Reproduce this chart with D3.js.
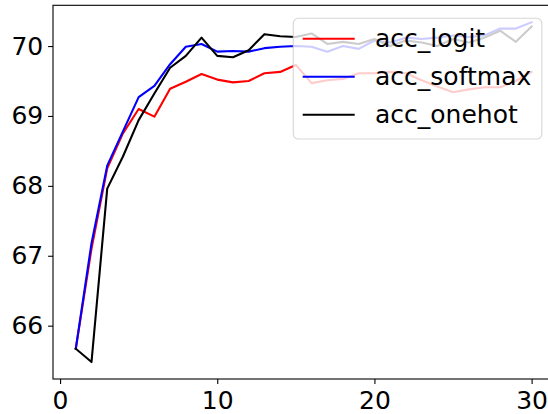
<!DOCTYPE html>
<html><head><meta charset="utf-8">
<script src="https://cdn.jsdelivr.net/npm/d3@7"></script>
<style>html,body{margin:0;padding:0;background:#fff;}svg{display:block;font-family:"DejaVu Sans",sans-serif;}</style>
</head><body>
<svg id="c" width="548" height="414"></svg>
<script>
const epochs = d3.range(1, 31);
const accLogit = [65.67, 67.10, 68.25, 68.75, 69.10, 68.99, 69.39, 69.49, 69.60, 69.52, 69.48, 69.50, 69.61, 69.63, 69.73, 69.47, 69.51, 69.53, 69.61, 69.61, 69.63, 69.61, 69.51, 69.42, 69.34, 69.38, 69.41, 69.41, 69.50, 69.63];
const accSoftmax = [65.67, 67.18, 68.29, 68.78, 69.27, 69.43, 69.74, 69.99, 70.03, 69.92, 69.93, 69.92, 69.97, 69.99, 70.00, 69.99, 69.92, 70.00, 69.96, 70.08, 70.05, 70.12, 70.10, 70.12, 70.15, 70.13, 70.15, 70.25, 70.25, 70.34];
const accOnehot = [65.67, 65.48, 67.96, 68.42, 68.94, 69.32, 69.69, 69.86, 70.12, 69.86, 69.84, 69.94, 70.17, 70.14, 70.13, 70.18, 70.03, 70.06, 70.03, 70.10, 70.00, 70.08, 70.05, 70.00, 70.10, 70.05, 70.12, 70.22, 70.06, 70.28];
const seriesNames = ["acc_logit", "acc_softmax", "acc_onehot"];
const seriesColors = ["#ff0000", "#0000ff", "#000000"];
const xTicks = [0, 10, 20, 30];
const yTicks = [66, 67, 68, 69, 70];

const series = [accLogit, accSoftmax, accOnehot];
const L = 53, R = 554.4, T = 5.3, B = 379;
const fs = 25;

const xMin = d3.min(epochs), xMax = d3.max(epochs), xm = (xMax - xMin) * 0.05;
const allY = series.flat();
const yMin = d3.min(allY), yMax = d3.max(allY), ym = (yMax - yMin) * 0.05;
const x = d3.scaleLinear().domain([xMin - xm, xMax + xm]).range([L, R]);
const y = d3.scaleLinear().domain([yMin - ym, yMax + ym]).range([B, T]);

const svg = d3.select("#c");
const clip = svg.append("clipPath").attr("id", "clp").append("rect")
  .attr("x", L).attr("y", T).attr("width", R - L).attr("height", B - T);

const line = d3.line().x((d, i) => x(epochs[i])).y(d => y(d));
const gl = svg.append("g").attr("clip-path", "url(#clp)");
series.forEach((s, k) => {
  gl.append("path").datum(s).attr("d", line).attr("fill", "none")
    .attr("stroke", seriesColors[k]).attr("stroke-width", 2.1)
    .attr("stroke-linejoin", "round").attr("stroke-linecap", "square");
});

// axes
const xa = svg.append("g").attr("transform", `translate(0,${B})`)
  .call(d3.axisBottom(x).tickValues(xTicks).tickSize(4.9).tickPadding(4.9).tickFormat(d3.format("d")));
const ya = svg.append("g").attr("transform", `translate(${L},0)`)
  .call(d3.axisLeft(y).tickValues(yTicks).tickSize(4.9).tickPadding(4.9).tickFormat(d3.format("d")));
[xa, ya].forEach(a => {
  a.select(".domain").remove();
  a.selectAll("line").attr("stroke", "#000").attr("stroke-width", 1.1);
  a.selectAll("text").attr("font-size", fs).attr("font-family", "DejaVu Sans").attr("fill", "#000");
});
xa.selectAll("text").attr("dy", "0.8em");

// spines
svg.append("rect").attr("x", L).attr("y", T).attr("width", R - L).attr("height", B - T)
  .attr("fill", "none").attr("stroke", "#000").attr("stroke-width", 1.1);

// legend
const lg = svg.append("g");
const lx0 = 293.3, ly0 = 18.3, lw = 248.5, lh = 120.7;
lg.append("rect").attr("x", lx0).attr("y", ly0).attr("width", lw).attr("height", lh)
  .attr("rx", 5).attr("ry", 5).attr("fill", "#fff").attr("fill-opacity", 0.8)
  .attr("stroke", "#cccccc").attr("stroke-opacity", 0.8).attr("stroke-width", 1.1);
seriesNames.forEach((n, k) => {
  const yy = 38.7 + k * 38;
  lg.append("line").attr("x1", 302.7).attr("x2", 354.7).attr("y1", yy).attr("y2", yy)
    .attr("stroke", seriesColors[k]).attr("stroke-width", 2.1);
  lg.append("text").attr("x", 375).attr("y", yy).attr("dy", "0.35em")
    .attr("font-size", fs).attr("fill", "#000").text(n);
});
</script>
</body></html>
